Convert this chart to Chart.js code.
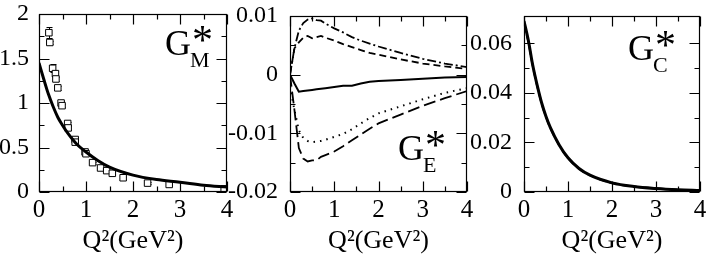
<!DOCTYPE html>
<html>
<head>
<meta charset="utf-8">
<script src="https://cdn.jsdelivr.net/npm/chart.js@4.4.1/dist/chart.umd.min.js"></script>
<style>
  html, body { margin: 0; padding: 0; background: #fff; }
  #wrap { position: relative; width: 708px; height: 256px; overflow: hidden; }
  canvas { position: absolute; top: 0; }
</style>
</head>
<body>
<div id="wrap">
  <canvas id="gm" width="235" height="256" style="left:0px"></canvas>
  <canvas id="ge" width="253" height="256" style="left:222px"></canvas>
  <canvas id="gc" width="246" height="256" style="left:462px"></canvas>
</div>
<script>
// ---- G_M* panel ----
const gmCurveX = [0, 0.1, 0.2, 0.3, 0.4, 0.5, 0.6, 0.8, 1.0, 1.25, 1.5, 2.0, 2.5, 3.0, 3.5, 4.0];
const gmCurveY = [1.45, 1.27, 1.10, 0.96, 0.84, 0.75, 0.67, 0.54, 0.45, 0.355, 0.28, 0.19, 0.14, 0.11, 0.075, 0.055];
const gmDataX = [0.21, 0.23, 0.29, 0.35, 0.36, 0.40, 0.47, 0.49, 0.61, 0.62, 0.77, 0.77, 0.98, 1.0, 1.14, 1.31, 1.44, 1.56, 1.79, 2.31, 2.77, 3.94];
const gmDataY = [1.79, 1.68, 1.39, 1.33, 1.27, 1.17, 1.0, 0.97, 0.77, 0.72, 0.59, 0.56, 0.45, 0.43, 0.33, 0.27, 0.24, 0.21, 0.16, 0.10, 0.085, 0.035];
const gmDataErr = [0.06, 0.02, 0.045, 0.03, 0.02, 0.02, 0.02, 0.02, 0.02, 0.02, 0.02, 0.02, 0.01, 0.01, 0.01, 0.01, 0.01, 0.01, 0.01, 0.01, 0.01, 0.01];

// ---- G_E* panel ----
const geX = [0, 0.1, 0.2, 0.3, 0.4, 0.5, 0.6, 0.7, 0.8, 1.0, 1.2, 1.4, 1.6, 1.8, 2.0, 2.5, 3.0, 3.5, 4.0];
const geDashDot = [0, 0.0045, 0.0075, 0.0088, 0.0094, 0.0096, 0.0093, 0.0092, 0.0087, 0.0079, 0.0072, 0.0064, 0.0058, 0.0053, 0.0048, 0.0037, 0.0027, 0.0019, 0.0013];
const geDashed = [0, 0.0045, 0.0055, 0.0063, 0.0066, 0.0062, 0.0064, 0.0066, 0.0063, 0.0058, 0.0052, 0.0047, 0.0042, 0.0037, 0.0034, 0.0026, 0.0019, 0.0014, 0.001];
const geSolid = [0, -0.0015, -0.0029, -0.0028, -0.0027, -0.0026, -0.0025, -0.0024, -0.0023, -0.0021, -0.0019, -0.0019, -0.0015, -0.0012, -0.0011, -0.0009, -0.0007, -0.0005, -0.0004];
const geDotted = [-0.002, -0.006, -0.0095, -0.0108, -0.0113, -0.0115, -0.0114, -0.0113, -0.0111, -0.0106, -0.0101, -0.0093, -0.0083, -0.0074, -0.0066, -0.0054, -0.0042, -0.0031, -0.0023];
const geLongDash = [0, -0.006, -0.0125, -0.0143, -0.0148, -0.0146, -0.0146, -0.014, -0.0137, -0.0131, -0.0122, -0.0112, -0.0102, -0.0092, -0.0083, -0.0068, -0.0053, -0.004, -0.0028];

// ---- G_C* panel ----
const gcX = [0, 0.1, 0.2, 0.3, 0.4, 0.5, 0.6, 0.8, 1.0, 1.25, 1.5, 2.0, 2.5, 3.0, 3.5, 4.0];
const gcSolid = [0.069, 0.061, 0.051, 0.043, 0.036, 0.0305, 0.026, 0.019, 0.0138, 0.0095, 0.0068, 0.0037, 0.0022, 0.0014, 0.0009, 0.0006];
const gcDashed = [0.068, 0.0605, 0.0508, 0.0428, 0.0358, 0.0303, 0.0258, 0.0188, 0.0137, 0.0094, 0.0067, 0.0036, 0.0022, 0.0014, 0.0009, 0.0006];

// tick positions
const xMajor = [0, 1, 2, 3, 4];
const xMinor = [0.5, 1.5, 2.5, 3.5];
const gmYMajor = [0, 0.5, 1, 1.5, 2];
const gmYMinor = [0.25, 0.75, 1.25, 1.75];
const geYMajor = [-0.02, -0.01, 0, 0.01];
const geYMinor = [-0.015, -0.005, 0.005];
const gcYMajor = [0, 0.02, 0.04, 0.06];
const gcYMinor = [0.01, 0.03, 0.05];

const SERIF = 'Liberation Serif';
Chart.defaults.font.family = SERIF;
Chart.defaults.color = '#000';

function xy(xs, ys) {
  return xs.map((x, i) => ({ x: x, y: ys[i] }));
}

function fmt(v) {
  return String(Math.round(v * 1000) / 1000);
}

// frame + inward ticks on all four sides, error bars, and the big panel label
const framePlugin = {
  id: 'frame',
  beforeDatasetsDraw(chart, args, opts) {
    if (!opts.err) return;
    const { ctx, scales } = chart;
    const sy = scales.y;
    const meta = chart.getDatasetMeta(opts.err.dataset);
    ctx.save();
    ctx.strokeStyle = '#000';
    ctx.lineWidth = 1;
    ctx.beginPath();
    meta.data.forEach((pt, i) => {
      const v = opts.err.y[i], e = opts.err.e[i];
      const top = Math.round(sy.getPixelForValue(v + e)) + 0.5;
      const bot = Math.round(sy.getPixelForValue(v - e)) + 0.5;
      const px = Math.round(pt.x) + 0.5;
      ctx.moveTo(px, top); ctx.lineTo(px, bot);
      ctx.moveTo(px - 3, top); ctx.lineTo(px + 3, top);
      ctx.moveTo(px - 3, bot); ctx.lineTo(px + 3, bot);
    });
    ctx.stroke();
    ctx.restore();
  },
  afterDatasetsDraw(chart, args, opts) {
    const { ctx, chartArea: a, scales } = chart;
    const sx = scales.x, sy = scales.y;
    ctx.save();
    ctx.strokeStyle = '#000';
    ctx.lineWidth = 1.2;
    const L = Math.round(a.left) + 0.5, R = Math.round(a.right) - 0.5;
    const T = Math.round(a.top) + 0.5, B = Math.round(a.bottom) - 0.5;
    ctx.beginPath();
    const tick = (vals, len) => {
      vals.forEach(v => {
        const px = Math.round(sx.getPixelForValue(v)) + 0.5;
        ctx.moveTo(px, B); ctx.lineTo(px, B - len);
        ctx.moveTo(px, T); ctx.lineTo(px, T + len);
      });
    };
    const ytick = (vals, len) => {
      vals.forEach(v => {
        const py = Math.round(sy.getPixelForValue(v)) + 0.5;
        ctx.moveTo(L, py); ctx.lineTo(L + len, py);
        ctx.moveTo(R, py); ctx.lineTo(R - len, py);
      });
    };
    tick(opts.xMajor, 10); tick(opts.xMinor, 5);
    ytick(opts.yMajor, 10); ytick(opts.yMinor, 5);
    ctx.stroke();
    ctx.strokeRect(L, T, R - L, B - T);

    // panel label G*_sub
    const lb = opts.label;
    ctx.fillStyle = '#000';
    ctx.textBaseline = 'alphabetic';
    ctx.textAlign = 'left';
    ctx.font = '36px ' + SERIF;
    ctx.fillText('G', lb.x, lb.y);
    ctx.font = '42px ' + SERIF;
    ctx.fillText('*', lb.x + 27, lb.y - 1);
    ctx.font = '22px ' + SERIF;
    ctx.fillText(lb.sub, lb.x + 25, lb.y + 12);
    ctx.restore();
  }
};

function makePanel(id, datasets, yMin, yMax, yMajor, yMinor, yWidth, yPad, label, err) {
  return new Chart(document.getElementById(id), {
    type: 'line',
    data: { datasets: datasets },
    options: {
      responsive: false,
      animation: false,
      events: [],
      layout: { padding: { left: 0, right: 8, top: 11, bottom: 0 } },
      elements: { point: { radius: 0 }, line: { tension: 0 } },
      plugins: {
        legend: { display: false },
        tooltip: { enabled: false },
        frame: { xMajor: xMajor, xMinor: xMinor, yMajor: yMajor, yMinor: yMinor, label: label, err: err }
      },
      scales: {
        x: {
          type: 'linear', min: 0, max: 4,
          grid: { display: false }, border: { display: false },
          afterBuildTicks: s => { s.ticks = xMajor.map(v => ({ value: v })); },
          afterFit: s => { s.height = 64; },
          ticks: { color: '#000', padding: -2, maxRotation: 0, font: { family: SERIF, size: 25, lineHeight: 1 }, callback: v => fmt(v) },
          title: { display: true, text: 'Q²(GeV²)', color: '#000', font: { family: SERIF, size: 26, lineHeight: 1 }, padding: { top: 0, bottom: 2 } }
        },
        y: {
          type: 'linear', min: yMin, max: yMax,
          grid: { display: false }, border: { display: false },
          afterBuildTicks: s => { s.ticks = yMajor.map(v => ({ value: v })); },
          afterFit: s => { s.width = yWidth; },
          ticks: { color: '#000', padding: yPad, font: { family: SERIF, size: 24, lineHeight: 1 }, callback: v => fmt(v) }
        }
      }
    },
    plugins: [framePlugin]
  });
}

makePanel('gm', [
  { data: xy(gmCurveX, gmCurveY), borderColor: '#000', borderWidth: 3, cubicInterpolationMode: 'monotone', pointRadius: 0 },
  { type: 'scatter', data: xy(gmDataX, gmDataY), showLine: false, pointStyle: 'rect', pointRadius: 4.6,
    pointBackgroundColor: '#fff', pointBorderColor: '#000', pointBorderWidth: 1 }
], 0, 2, gmYMajor, gmYMinor, 39, 2, { x: 165, y: 55, sub: 'M' }, { dataset: 1, y: gmDataY, e: gmDataErr });

makePanel('ge', [
  { data: xy(geX, geDashDot), borderColor: '#000', borderWidth: 1.8, borderDash: [9, 3, 2, 3] },
  { data: xy(geX, geDashed), borderColor: '#000', borderWidth: 1.8, borderDash: [7, 4] },
  { data: xy(geX, geSolid), borderColor: '#000', borderWidth: 2 },
  { data: xy(geX, geDotted), borderColor: '#000', borderWidth: 2, borderDash: [1.5, 5] },
  { data: xy(geX, geLongDash), borderColor: '#000', borderWidth: 1.8, borderDash: [12, 5] }
], -0.02, 0.01, geYMajor, geYMinor, 68, 4, { x: 176, y: 160, sub: 'E' });

makePanel('gc', [
  { data: xy(gcX, gcSolid), borderColor: '#000', borderWidth: 3, cubicInterpolationMode: 'monotone' },
  { data: xy(gcX, gcDashed), borderColor: '#000', borderWidth: 2, borderDash: [8, 4], cubicInterpolationMode: 'monotone' }
], 0, 0.071, gcYMajor, gcYMinor, 62, 4, { x: 166, y: 60, sub: 'C' });
</script>
</body>
</html>
